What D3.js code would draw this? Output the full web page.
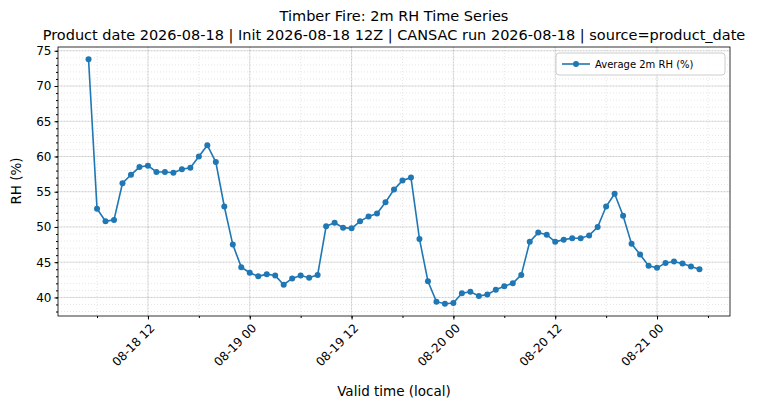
<!DOCTYPE html><html><head><meta charset="utf-8">
<script src="https://cdn.jsdelivr.net/npm/d3@7"></script>
<style>body{margin:0;background:#fff}text{font-family:"DejaVu Sans",sans-serif}</style></head><body>
<svg id="c" width="775" height="409"></svg>
<script>
const startTime = "2026-08-18T05:00";
const rhValues = [73.8,52.6,50.8,51.0,56.2,57.4,58.5,58.7,57.8,57.8,57.7,58.2,58.4,60.0,61.6,59.2,52.9,47.5,44.3,
43.5,43.0,43.3,43.1,41.8,42.7,43.1,42.8,43.2,50.1,50.6,49.9,49.8,50.8,51.5,51.9,53.5,55.3,56.6,57.0,48.3,42.3,39.4,39.1,
39.2,40.6,40.8,40.2,40.4,41.1,41.6,42.0,43.2,47.9,49.2,48.9,47.9,48.2,48.4,48.4,48.8,50.0,52.9,54.7,51.6,47.6,46.1,44.5,
44.2,44.9,45.1,44.8,44.4,44.0];
const yTicks = [40,45,50,55,60,65,70,75];
const title1 = "Timber Fire: 2m RH Time Series";
const title2 = "Product date 2026-08-18 | Init 2026-08-18 12Z | CANSAC run 2026-08-18 | source=product_date";

const t0 = new Date(startTime);
const data = rhValues.map((v,i)=>({t:new Date(t0.getTime()+i*3600e3), v}));
const svg = d3.select("#c");
const L=58,R=730,T=47,B=316;
const tMin=data[0].t, tMax=data[data.length-1].t, span=tMax-tMin;
const x=d3.scaleTime().domain([new Date(+tMin-span*0.05),new Date(+tMax+span*0.05)]).range([L,R]);
const vmin=d3.min(rhValues), vmax=d3.max(rhValues), vs=vmax-vmin;
const y=d3.scaleLinear().domain([vmin-vs*0.05,vmax+vs*0.05]).range([B,T]);
const major=x.ticks(d3.timeHour.every(12)), minor=x.ticks(d3.timeHour.every(6));
const yMinor=d3.range(38,76,1);
const g=svg.append("g");
g.selectAll(".ym").data(yMinor).join("line").attr("x1",L).attr("x2",R).attr("y1",d=>y(d)).attr("y2",d=>y(d)).attr("stroke","#ccc").attr("stroke-width",0.5).attr("stroke-dasharray","1,2");
g.selectAll(".xm").data(minor).join("line").attr("y1",T).attr("y2",B).attr("x1",d=>x(d)).attr("x2",d=>x(d)).attr("stroke","#ccc").attr("stroke-width",0.5).attr("stroke-dasharray","1,2");
g.selectAll(".yM").data(yTicks).join("line").attr("x1",L).attr("x2",R).attr("y1",d=>y(d)).attr("y2",d=>y(d)).attr("stroke","#000").attr("stroke-opacity",0.15).attr("stroke-width",0.8);
g.selectAll(".xM").data(major).join("line").attr("y1",T).attr("y2",B).attr("x1",d=>x(d)).attr("x2",d=>x(d)).attr("stroke","#000").attr("stroke-opacity",0.15).attr("stroke-width",0.8);

const fmt=d3.timeFormat("%m-%d %H");
const xa=svg.append("g").attr("transform",`translate(0,${B})`).call(d3.axisBottom(x).tickValues(major).tickFormat(fmt).tickSize(3.5));
xa.append("g").call(d3.axisBottom(x).tickValues(minor).tickFormat("").tickSize(2)).select(".domain").remove();
xa.selectAll(".tick text").attr("font-size",12).attr("fill","#000").attr("text-anchor","end").attr("x",0).attr("y",0).attr("dy","0.35em").attr("transform","translate(4,10) rotate(-45)");
const ya=svg.append("g").attr("transform",`translate(${L},0)`).call(d3.axisLeft(y).tickValues(yTicks).tickSize(3.5));
ya.append("g").call(d3.axisLeft(y).tickValues(yMinor).tickFormat("").tickSize(2)).select(".domain").remove();
ya.selectAll(".tick text").attr("font-size",12).attr("fill","#000");
svg.selectAll(".domain").remove();
svg.append("rect").attr("x",L).attr("y",T).attr("width",R-L).attr("height",B-T).attr("fill","none").attr("stroke","#000").attr("stroke-width",0.8);

const line=d3.line().x(d=>x(d.t)).y(d=>y(d.v));
svg.append("path").datum(data).attr("d",line).attr("fill","none").attr("stroke","#1f77b4").attr("stroke-width",1.6);
svg.selectAll(".pt").data(data).join("circle").attr("cx",d=>x(d.t)).attr("cy",d=>y(d.v)).attr("r",3).attr("fill","#1f77b4");

svg.append("text").attr("x",394).attr("y",21).attr("text-anchor","middle").attr("font-size",14.5).text(title1);
svg.append("text").attr("x",394).attr("y",40).attr("text-anchor","middle").attr("font-size",14.5).text(title2);
svg.append("text").attr("x",394).attr("y",396).attr("text-anchor","middle").attr("font-size",13.5).text("Valid time (local)");
svg.append("text").attr("transform","translate(21,181) rotate(-90)").attr("text-anchor","middle").attr("font-size",13.5).text("RH (%)");

const lg=svg.append("g").attr("transform","translate(556,53)");
lg.append("rect").attr("width",169).attr("height",22).attr("rx",3).attr("fill","#fff").attr("fill-opacity",0.8).attr("stroke","#ccc");
lg.append("line").attr("x1",6).attr("x2",34).attr("y1",11).attr("y2",11).attr("stroke","#1f77b4").attr("stroke-width",1.6);
lg.append("circle").attr("cx",20).attr("cy",11).attr("r",3).attr("fill","#1f77b4");
lg.append("text").attr("x",39).attr("y",15).attr("font-size",10).text("Average 2m RH (%)");
</script></body></html>
